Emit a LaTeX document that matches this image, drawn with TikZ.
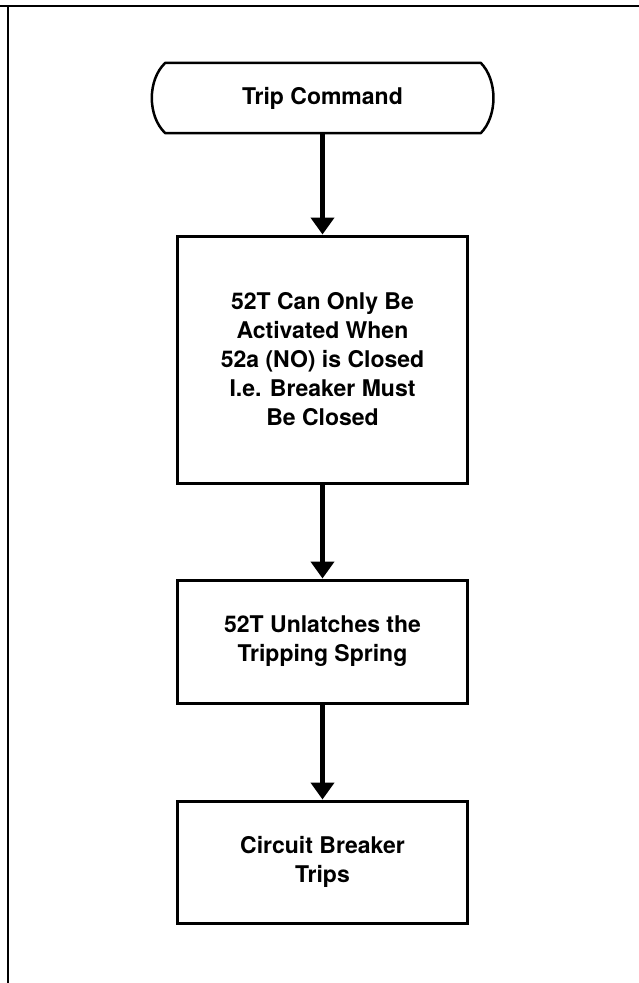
\documentclass[tikz,border=0pt]{standalone}
\usepackage{fontspec}
\setmainfont{TeX Gyre Heros}
\usetikzlibrary{arrows.meta,calc}
\tikzset{
  boxnode/.style={draw, line width=3pt, minimum width=290pt, align=center,
    font=\fontsize{23}{29}\selectfont\bfseries, inner sep=0pt},
  termnode/.style={minimum width=340pt, minimum height=70pt, align=center,
    font=\fontsize{23}{29}\selectfont\bfseries, inner sep=0pt},
  termline/.style={line width=2.5pt, line join=round},
  flowarrow/.style={line width=5pt, -{Triangle[width=23pt,length=17pt]}},
  frameline/.style={line width=2pt}
}
\begin{document}
\begin{tikzpicture}[x=1pt,y=-1pt]
\useasboundingbox (0,0) rectangle (639,983);
% frame
\coordinate (ftl) at (8,6);
\coordinate (ftr) at (639,6);
\coordinate (ftl0) at (0,6);
\coordinate (fbl) at (8,983);
\draw[frameline] (ftl0) -- (ftr);
\draw[frameline] (ftl) -- (fbl);
% terminal
\node[termnode] (t) at (322.5,98) {Trip Command};
\draw[termline] ([xshift=13pt]t.north west) -- ([xshift=-12pt]t.north east)
  .. controls ([xshift=5pt,yshift=-17pt]t.north east) and ([xshift=5pt,yshift=17pt]t.south east) .. ([xshift=-12pt]t.south east)
  -- ([xshift=13pt]t.south west)
  .. controls ([xshift=-5pt,yshift=17pt]t.south west) and ([xshift=-5pt,yshift=-17pt]t.north west) .. cycle;
% boxes
\node[boxnode, minimum height=247pt] (b2) at (322.5,359.5)
  {52T Can Only Be\\Activated When\\52a (NO) is Closed\\I.e. Breaker Must\\Be Closed};
\node[boxnode, minimum height=123pt] (b3) at (322.5,641.5)
  {52T Unlatches the\\Tripping Spring};
\node[boxnode, minimum height=122pt] (b4) at (322.5,862)
  {Circuit Breaker\\Trips};
% arrows
\draw[flowarrow] (t.south) -- (b2.north);
\draw[flowarrow] (b2.south) -- (b3.north);
\draw[flowarrow] (b3.south) -- (b4.north);
\end{tikzpicture}
\end{document}
